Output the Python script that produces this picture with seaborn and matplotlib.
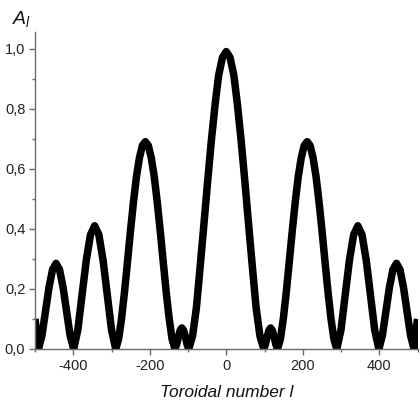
import matplotlib
matplotlib.use("Agg")
import matplotlib.pyplot as plt
import seaborn as sns
import pandas as pd

# ---- data (left half, l <= 0; curve is symmetric) ----
edge_x = [-500, -495]
edge_y = [0.10, 0.045]

lobe5_x = [-491, -481.8, -472.6, -463.4, -454.2, -445, -435.8, -426.6, -417.4, -408.2]
lobe5_y = [0.0, 0.045, 0.125, 0.205, 0.264, 0.285, 0.264, 0.205, 0.125, 0.045]

lobe4_x = [-399, -388, -377, -366, -355, -344, -333, -322, -311, -300]
lobe4_y = [0.0, 0.064, 0.180, 0.295, 0.380, 0.410, 0.380, 0.295, 0.180, 0.064]

lobe3_x = [-289, -281.25, -273.5, -265.75, -258, -250.25, -242.5, -234.75, -227, -219.25,
           -211.5, -203.75, -196, -188.25, -180.5, -172.75, -165, -157.25, -149.5, -141.75]
lobe3_y = [0.0, 0.034, 0.104, 0.193, 0.293, 0.395, 0.490, 0.574, 0.636, 0.677,
           0.690, 0.677, 0.636, 0.574, 0.490, 0.395, 0.293, 0.193, 0.104, 0.034]

lobe2_x = [-134, -129.5, -125, -120.5, -116, -111.5, -107, -102.5]
lobe2_y = [0.0, 0.016, 0.041, 0.062, 0.070, 0.062, 0.041, 0.016]

lobe1_x = [-98, -88, -78, -69, -59, -49, -39, -29, -20, -10]
lobe1_y = [0.0, 0.044, 0.138, 0.263, 0.406, 0.553, 0.693, 0.816, 0.910, 0.970]

center_x = [0]
center_y = [0.99]

x_ticks = [-400, -200, 0, 200, 400]
x_tick_labels = ["-400", "-200", "0", "200", "400"]
y_ticks = [0.0, 0.2, 0.4, 0.6, 0.8, 1.0]
y_tick_labels = ["0,0", "0,2", "0,4", "0,6", "0,8", "1,0"]
x_label = "Toroidal number l"
y_label = r"$A_l$"

# ---- build full symmetric curve ----
half_x = edge_x + lobe5_x + lobe4_x + lobe3_x + lobe2_x + lobe1_x
half_y = edge_y + lobe5_y + lobe4_y + lobe3_y + lobe2_y + lobe1_y
full_x = half_x + center_x + [-v for v in reversed(half_x)]
full_y = half_y + center_y + list(reversed(half_y))
df = pd.DataFrame({"l": full_x, "A": full_y})

sns.set_style("ticks")
plt.rcParams["font.family"] = ["Liberation Sans", "DejaVu Sans"]
plt.rcParams["mathtext.fontset"] = "custom"
plt.rcParams["mathtext.it"] = "Liberation Sans:italic"
plt.rcParams["mathtext.rm"] = "Liberation Sans"

fig = plt.figure(figsize=(4.20, 4.09), dpi=100)
ax = fig.add_axes([35 / 420, 1 - 349 / 409, (417.5 - 35) / 420, (349 - 32) / 409])

sns.lineplot(data=df, x="l", y="A", sort=False, estimator=None, color="black",
             linewidth=5.4, ax=ax, solid_joinstyle="round", solid_capstyle="butt")

ax.set_xlim(-500, 500)
ax.set_ylim(0, 1.055)
ax.set_xticks(x_ticks)
ax.set_xticklabels(x_tick_labels)
ax.set_yticks(y_ticks)
ax.set_yticklabels(y_tick_labels)
ax.set_xticks([-500, -300, -100, 100, 300, 500], minor=True)
ax.set_yticks([0.1, 0.3, 0.5, 0.7, 0.9], minor=True)

spine_col = "#6a6a6a"
for s in ["left", "bottom"]:
    ax.spines[s].set_color(spine_col)
    ax.spines[s].set_linewidth(1.0)
for s in ["top", "right"]:
    ax.spines[s].set_visible(False)

ax.tick_params(axis="both", which="major", direction="out", length=4, width=1,
               color=spine_col, labelsize=10.5, labelcolor="#222222", pad=3)
ax.tick_params(axis="both", which="minor", direction="out", length=2.5, width=1,
               color=spine_col)

ax.set_xlabel(x_label, fontsize=12.5, fontstyle="italic", color="#111111", labelpad=9)
ax.set_ylabel("")
fig.text(12 / 420, 1 - 24 / 409, y_label, fontsize=14, color="#111111",
         ha="left", va="baseline")

fig.savefig("out.png", dpi=100)
